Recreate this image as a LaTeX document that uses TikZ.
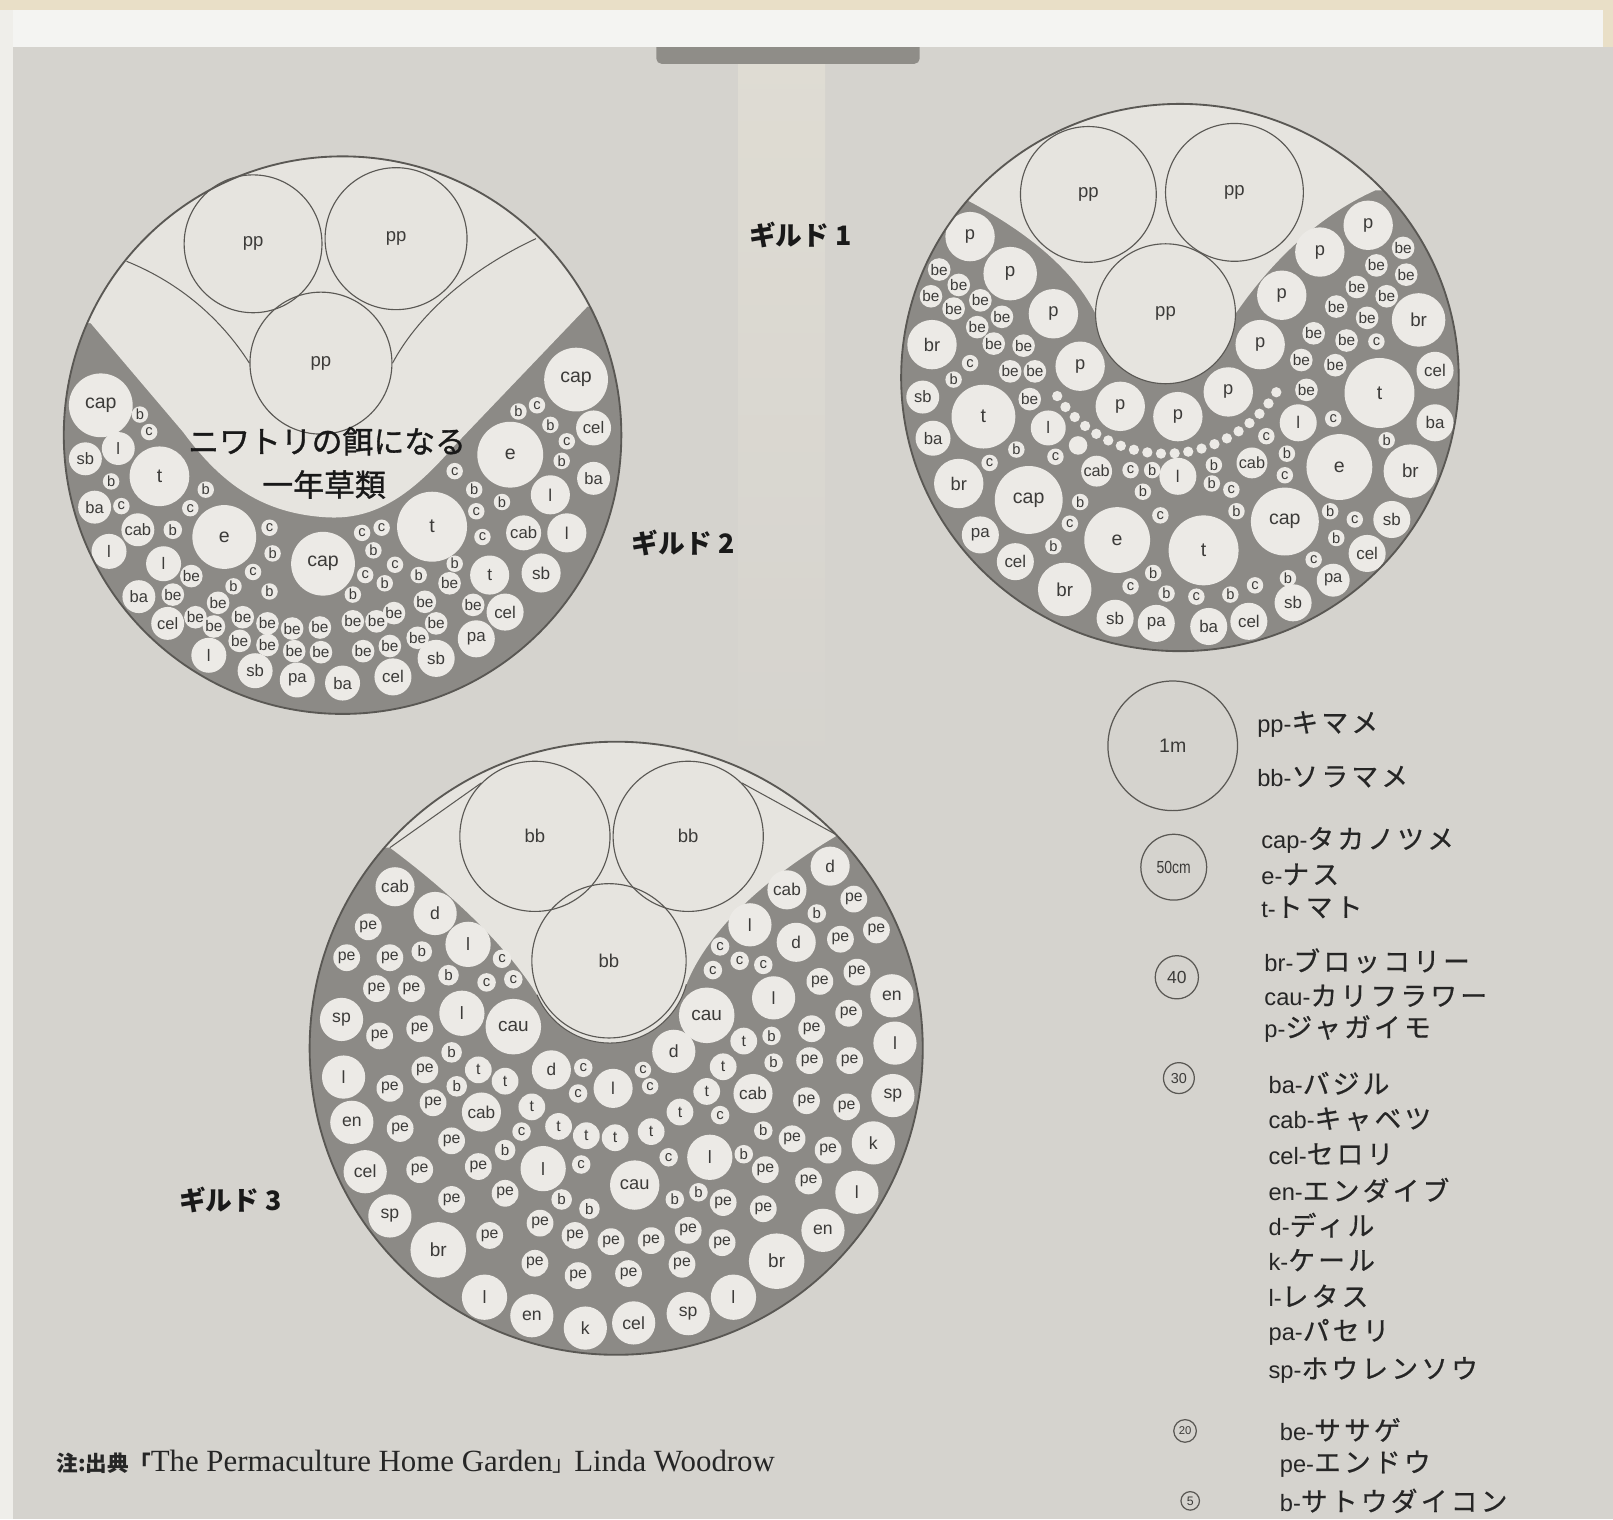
\documentclass[tikz,border=0pt]{standalone}
\usepackage{fontspec}
\setmainfont{Liberation Sans}
\newfontfamily\jp{Noto Sans CJK JP}
\newfontfamily\bookserif{Liberation Serif}
\definecolor{cream}{HTML}{E9DFC7}
\definecolor{margin}{HTML}{EFEEEA}
\definecolor{band}{HTML}{F4F4F2}
\definecolor{pagebg}{HTML}{D5D3CE}
\definecolor{gutter}{HTML}{DFDCD3}
\definecolor{tagc}{HTML}{8F8D88}
\definecolor{soil}{HTML}{8C8A86}
\definecolor{leaf}{HTML}{ECEAE6}
\definecolor{blank}{HTML}{E6E4DF}
\definecolor{ink}{HTML}{5A5854}
\definecolor{lettr}{HTML}{3C3B39}
\newcommand{\plantfont}[1]{\pgfmathsetmacro\pfs{min(19,12.5+0.22*#1)}\fontsize{\pfs}{\pfs}\selectfont}
\newcommand{\legtxt}[2]{{\fontsize{23}{25}\selectfont #1-}{\jp\addfontfeature{LetterSpace=12,FakeBold=0.6}\fontsize{26}{28}\selectfont #2}}

\begin{document}
\begin{tikzpicture}[x=1pt,y=-1pt,
  ring/.style={draw=ink,line width=1.8pt},
  zone/.style={draw=ink,line width=1pt},
  bean/.style={circle,draw=ink,line width=1.1pt,inner sep=0pt,minimum size=#1*2pt,text=lettr,font=\fontsize{18}{18}\selectfont},
  plant/.style={circle,fill=leaf,inner sep=0pt,minimum size=#1*2pt,text=lettr,font=\plantfont{#1}},
  key/.style={circle,draw=ink,line width=1.2pt,inner sep=0pt,minimum size=#1*2pt,text=lettr},
  feed/.style={font=\jp\addfontfeature{FakeBold=1}\fontsize{30}{30}\selectfont,text=black!90,inner sep=0pt},
  guild/.style={font=\jp\bfseries\fontsize{26}{26}\selectfont,text=black!90,inner sep=0pt},
  legend/.style={anchor=west,inner sep=0pt,text=black!85}]
\useasboundingbox (0,0) rectangle (1568,1477);
% page
\fill[cream] (0,0) rectangle (1568,1477);
\fill[margin] (0,10) rectangle (13,1477);
\fill[pagebg] (13,46) rectangle (1568,1477);
\shade[top color=gutter,bottom color=pagebg] (718,46) rectangle (802,760);
\fill[tagc,rounded corners=5pt] (638,30) rectangle (894,62);
\fill[band] (13,10) rectangle (1558,46);

% guild 1
\fill[soil] (333,423) circle[radius=271];
\begin{scope}
  \clip (333,423) circle[radius=271];
  \fill[blank] (50,100) -- (50,314) -- (88,314) -- (178,420) .. controls (215,470) and (255,500) .. (320,503)
    .. controls (370,505) and (405,475) .. (441,434) -- (571,298) -- (620,298) -- (620,100) -- cycle;
\end{scope}
\node[bean=67] (g1pp1) at (246,237) {pp};
\node[bean=69] (g1pp2) at (385,232) {pp};
\node[bean=69] (g1pp3) at (312,353) {pp};
\draw[zone] (123,254) .. controls (175,275) and (215,310) .. (g1pp3.west);
\draw[zone] (521,232) .. controls (465,258) and (410,300) .. (g1pp3.east);
\foreach \px/\py/\pr/\pl [count=\n] in {98/394/31/cap, 136/403/8/b, 145/420/8/c, 83/446/16/sb, 115/436/16/l,
  155/463/29/t, 108/468/8/b, 92/493/16/ba, 118/492/8/c, 200/476/8/b, 185/494/8/c, 134/515/16/cab, 168/515/9/b,
  218/522/31/e, 106/536/17/l, 159/548/17/l, 262/513/8/c, 265/538/8/b, 246/556/8/c, 262/575/8/b, 227/570/8/b,
  314/548/31/cap, 135/580/16/ba, 168/578/11/be, 186/560/11/be, 190/600/11/be, 163/606/16/cel, 212/586/11/be,
  208/609/11/be, 236/600/11/be, 233/623/11/be, 260/606/11/be, 260/627/11/be, 284/611/11/be, 286/633/11/be,
  311/610/11/be, 312/634/11/be, 203/637/17/l, 248/652/17/sb, 289/661/17/pa, 333/664/17/ba,
  560/369/31/cap, 504/400/8/b, 522/394/8/c, 535/413/8/b, 577/416/17/cel, 551/429/8/c, 546/448/8/b, 577/465/16/ba,
  496/442/32/e, 442/458/8/c, 461/476/8/b, 463/497/8/c, 488/488/8/b, 535/481/19/l, 551/518/19/l, 509/518/17/cab,
  469/522/8/c, 420/512/34/t, 352/518/8/c, 371/513/8/c, 363/535/8/b, 384/549/8/c, 355/559/8/c, 442/548/8/b,
  407/559/8/b, 374/567/8/b, 476/559/19/t, 526/557/19/sb, 343/578/8/b, 437/567/11/be, 413/585/11/be, 460/588/11/be,
  383/596/11/be, 343/604/11/be, 366/604/11/be, 424/606/11/be, 406/620/11/be, 379/628/11/be, 353/633/11/be,
  491/595/18/cel, 463/621/18/pa, 424/640/18/sb, 382/658/18/cel}
  {\node[plant=\pr] (ga\n) at (\px,\py) {\pl};}
\node[feed] (hen1) at (318,429) {ニワトリの餌になる};
\node[feed] (hen2) at (315,471) {一年草類};
\draw[ring] (333,423) circle[radius=271];

% guild 2
\fill[soil] (1147,367) ellipse[x radius=271,y radius=266];
\begin{scope}
  \clip (1147,367) ellipse[x radius=271,y radius=266];
  \fill[blank] (860,90) -- (860,194) -- (939,194) .. controls (985,218) and (1040,255) .. (1065,305)
    arc[start angle=180,end angle=0,radius=68] .. controls (1225,270) and (1270,215) .. (1337,185)
    -- (1440,185) -- (1440,90) -- cycle;
\end{scope}
\node[bean=66] (g2pp1) at (1058,189) {pp};
\node[bean=67] (g2pp2) at (1200,187) {pp};
\node[bean=68] (g2pp3) at (1133,305) {pp};
\foreach \a in {32,38,...,146}
  \fill[leaf] ([shift={(1133,314)}]\a:127) circle[radius=5];
\foreach \px/\py/\pr/\pl [count=\n] in {943/230/24/p, 982/266/26/p, 1024/305/24/p, 1050/356/24/p, 1089/395/24/p,
  1145/405/24/p, 1330/219/24/p, 1283/245/24/p, 1246/287/24/p, 1225/335/24/p, 1194/381/24/p,
  913/262/11/be, 932/277/11/be, 905/288/11/be, 953/292/11/be, 927/300/11/be, 974/308/11/be, 950/318/11/be,
  995/336/11/be, 966/334/11/be, 982/361/11/be, 1006/361/11/be, 1001/388/11/be,
  906/335/24/br, 943/353/8/c, 927/369/8/b, 897/386/16/sb, 956/405/31/t, 907/426/17/ba, 1019/416/17/l,
  962/450/8/c, 988/437/8/b, 1026/444/8/c, 1048/433/9/{}, 932/470/24/br, 1000/486/33/cap, 1066/458/15/cab,
  1099/457/8/c, 1120/457/8/b, 1111/478/8/b, 1128/501/8/c, 1050/488/8/b, 1040/509/8/c, 1024/531/8/b,
  953/520/18/pa, 987/546/18/cel, 1086/525/32/e, 1035/573/26/br, 1099/570/8/c, 1121/557/8/b, 1134/577/8/b,
  1084/601/18/sb, 1124/606/18/pa, 1145/463/18/l,
  1364/241/11/be, 1338/258/11/be, 1367/267/11/be, 1319/279/11/be, 1348/288/11/be, 1299/298/11/be,
  1329/309/11/be, 1277/324/11/be, 1309/331/11/be, 1265/350/11/be, 1298/355/11/be, 1270/379/11/be,
  1338/332/8/c, 1379/311/26/br, 1395/360/18/cel, 1341/382/34/t, 1395/411/18/ba, 1262/411/18/l, 1296/407/8/c,
  1348/428/8/b, 1231/424/8/c, 1251/441/8/b, 1249/462/8/c, 1217/450/15/cab, 1180/452/8/b, 1178/470/8/b,
  1197/476/8/c, 1202/497/8/b, 1302/454/32/e, 1371/458/26/br, 1249/507/33/cap, 1293/497/8/b, 1317/505/8/c,
  1299/523/8/b, 1353/505/18/sb, 1329/538/18/cel, 1277/544/8/c, 1296/564/16/pa, 1252/562/8/b, 1257/586/18/sb,
  1220/569/8/c, 1196/578/8/b, 1163/580/8/c, 1170/535/34/t, 1214/604/18/cel, 1175/609/18/ba}
  {\node[plant=\pr] (gb\n) at (\px,\py) {\pl};}
\draw[ring] (1147,367) ellipse[x radius=271,y radius=266];

% guild 3
\fill[soil] (599,1019) circle[radius=298];
\begin{scope}
  \clip (599,1019) circle[radius=298];
  \fill[blank] (290,700) -- (290,824) -- (379,824) .. controls (430,862) and (490,915) .. (522,967)
    arc[start angle=157,end angle=15,radius=77] .. controls (690,900) and (750,850) .. (814,812)
    -- (910,812) -- (910,700) -- cycle;
\end{scope}
\draw[zone] (522,967) arc[start angle=157,end angle=15,radius=77];
\node[bean=73] (g3bb1) at (520,813) {bb};
\node[bean=73] (g3bb2) at (669,813) {bb};
\node[bean=75] (g3bb3) at (592,934) {bb};
\draw[zone] (379,824) -- (g3bb1.north west);
\draw[zone] (814,812) -- (g3bb2.north east);
\foreach \px/\py/\pr/\pl [count=\n] in {384/862/19/cab, 423/888/21/d, 358/901/13/pe, 337/931/13/pe, 379/931/13/pe,
  410/925/10/b, 455/918/22/l, 436/948/10/b, 488/932/9/c, 473/955/9/c, 499/952/9/c, 366/961/13/pe, 400/961/13/pe,
  332/991/21/sp, 369/1007/13/pe, 408/1000/13/pe, 449/985/22/l, 499/998/27/cau, 439/1023/10/b, 334/1047/21/l,
  413/1040/13/pe, 379/1058/13/pe, 465/1040/13/t, 491/1051/13/t, 444/1056/10/b, 536/1040/19/d, 567/1038/9/c,
  562/1063/9/c, 596/1058/19/l, 421/1072/13/pe, 468/1081/19/cab, 517/1076/13/t, 543/1095/13/t, 570/1104/13/t,
  507/1100/9/c, 491/1118/10/b, 342/1091/21/en, 389/1097/13/pe, 439/1109/13/pe, 355/1139/21/cel, 408/1137/13/pe,
  465/1134/13/pe, 528/1136/22/l, 565/1132/9/c, 439/1166/13/pe, 491/1160/13/pe, 546/1166/10/b, 573/1175/10/b,
  379/1182/21/sp, 426/1215/27/br, 476/1201/13/pe, 525/1189/13/pe, 559/1201/13/pe, 594/1207/13/pe,
  520/1228/13/pe, 562/1240/13/pe, 471/1261/22/l, 517/1279/21/en, 569/1291/21/k,
  807/842/19/d, 765/865/19/cab, 830/874/13/pe, 794/888/9/b, 729/899/21/l, 817/913/13/pe, 852/904/13/pe,
  774/916/19/d, 700/920/9/c, 693/943/9/c, 719/934/9/c, 742/938/9/c, 797/954/13/pe, 833/945/13/pe,
  867/968/21/en, 752/970/21/l, 687/987/27/cau, 789/1000/13/pe, 825/985/13/pe, 870/1014/21/l, 723/1012/13/t,
  750/1007/9/b, 752/1033/9/b, 787/1031/13/pe, 826/1031/13/pe, 655/1022/21/d, 625/1040/8/c, 632/1056/8/c,
  703/1037/13/t, 868/1065/21/sp, 732/1063/19/cab, 784/1070/13/pe, 823/1076/13/pe, 687/1061/13/t, 700/1084/9/c,
  661/1081/13/t, 598/1106/13/t, 633/1100/13/t, 742/1099/9/b, 770/1107/13/pe, 805/1118/13/pe, 849/1111/21/k,
  650/1125/9/c, 690/1125/22/l, 723/1122/9/b, 744/1137/13/pe, 786/1148/13/pe, 833/1159/21/l, 617/1152/24/cau,
  656/1166/9/b, 679/1159/9/b, 703/1169/13/pe, 742/1175/13/pe, 800/1196/21/en, 669/1196/13/pe, 633/1206/13/pe,
  702/1208/13/pe, 755/1226/27/br, 663/1229/13/pe, 611/1238/13/pe, 713/1261/22/l, 669/1277/21/sp, 616/1286/21/cel}
  {\node[plant=\pr] (gc\n) at (\px,\py) {\pl};}
\draw[ring] (599,1019) circle[radius=298];

% guild names
\node[guild] (name1) at (778,228) {ギルド 1};
\node[guild] (name2) at (664,528) {ギルド 2};
\node[guild] (name3) at (224,1166) {ギルド 3};

% legend
\node[key=63,font=\fontsize{19}{19}\selectfont] (k1m) at (1140,725) {1m};
\node[key=32,font=\fontsize{17}{17}\selectfont] (k50) at (1141,843) {\scalebox{0.8}[1]{50cm}};
\node[key=21,font=\fontsize{17}{17}\selectfont] (k40) at (1144,950) {40};
\node[key=15,font=\fontsize{14}{14}\selectfont] (k30) at (1146,1048) {30};
\node[key=11,font=\fontsize{11}{11}\selectfont] (k20) at (1152,1391) {20};
\node[key=9,font=\fontsize{12}{12}\selectfont] (k5) at (1157,1459) {5};
\node[legend] (lpp) at (1222,704) {\legtxt{pp}{キマメ}};
\node[legend] (lbb) at (1222,755) {\legtxt{bb}{ソラマメ}};
\node[legend] (lcap) at (1226,817) {\legtxt{cap}{タカノツメ}};
\node[legend] (le) at (1226,850) {\legtxt{e}{ナス}};
\node[legend] (lt) at (1226,882) {\legtxt{t}{トマト}};
\node[legend] (lbr) at (1229,934) {\legtxt{br}{ブロッコリー}};
\node[legend] (lcau) at (1229,968) {\legtxt{cau}{カリフラワー}};
\node[legend] (lp) at (1229,1000) {\legtxt{p}{ジャガイモ}};
\node[legend] (lba) at (1233,1053) {\legtxt{ba}{バジル}};
\node[legend] (lcab) at (1233,1088) {\legtxt{cab}{キャベツ}};
\node[legend] (lcel) at (1233,1122) {\legtxt{cel}{セロリ}};
\node[legend] (len) at (1233,1157) {\legtxt{en}{エンダイブ}};
\node[legend] (ld) at (1233,1191) {\legtxt{d}{ディル}};
\node[legend] (lk) at (1233,1225) {\legtxt{k}{ケール}};
\node[legend] (ll) at (1233,1260) {\legtxt{l}{レタス}};
\node[legend] (lpa) at (1233,1295) {\legtxt{pa}{パセリ}};
\node[legend] (lsp) at (1233,1332) {\legtxt{sp}{ホウレンソウ}};
\node[legend] (lbe) at (1244,1390) {\legtxt{be}{ササゲ}};
\node[legend] (lpe) at (1244,1423) {\legtxt{pe}{エンドウ}};
\node[legend] (lb) at (1244,1459) {\legtxt{b}{サトウダイコン}};

% source note
\node[anchor=west,inner sep=0pt,text=black!85,font=\bookserif\fontsize{30}{30}\selectfont] (note) at (55,1421)
  {{\jp\bfseries\fontsize{21}{21}\selectfont 注:出典「}The Permaculture Home Garden{\jp\fontsize{21}{21}\selectfont 」}Linda Woodrow};
\end{tikzpicture}
\end{document}
